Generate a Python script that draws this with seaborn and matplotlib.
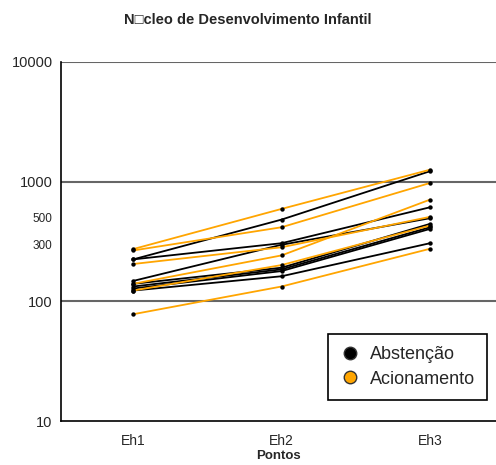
import pandas as pd
import numpy as np
import matplotlib
matplotlib.use('Agg')
import matplotlib.pyplot as plt
import seaborn as sns
from matplotlib.lines import Line2D
from matplotlib.ticker import LogLocator, NullFormatter

# Data (values per series at Eh1, Eh2, Eh3)
pontos = ['Eh1', 'Eh2', 'Eh3']
abstencao = [
    [224, 482, 1223],
    [224, 306, 611],
    [148, 297, 495],
    [140, 191, 444],
    [133, 185, 416],
    [128, 179, 403],
    [123, 162, 306],
]
acionamento = [
    [273, 592, 1259],
    [266, 416, 975],
    [205, 283, 508],
    [140, 242, 708],
    [123, 201, 430],
    [78, 133, 275],
]
grupos = ['Abstenção', 'Acionamento']
cores = {'Abstenção': 'black', 'Acionamento': '#FFA500'}

# Build long table
rows = []
for grupo, series in zip(grupos, [abstencao, acionamento]):
    for i, vals in enumerate(series):
        for p, v in zip(pontos, vals):
            rows.append({'grupo': grupo, 'serie': f'{grupo}_{i}', 'ponto': p, 'valor': v})
df = pd.DataFrame(rows)

sns.set_style('white')
plt.rcParams['font.family'] = ['Liberation Sans', 'DejaVu Sans']

fig = plt.figure(figsize=(4.96, 4.65), dpi=100)
ax = fig.add_axes([0.123, 0.0946, 0.877, 0.7721])

# horizontal gridlines at decades
for y in [100, 1000, 10000]:
    ax.axhline(y, color='#666666', lw=1.5, zorder=0)

sns.lineplot(data=df, x='ponto', y='valor', hue='grupo', units='serie',
             estimator=None, palette=cores, lw=1.3, sort=False, legend=False, ax=ax)
sns.scatterplot(data=df, x='ponto', y='valor', color='black', s=10,
                edgecolor='black', linewidth=0, zorder=3, legend=False, ax=ax)

ax.set_yscale('log')
ax.set_ylim(10, 10000)
ax.set_xlim(-0.485, 2.444)

ax.set_yticks([10, 100, 300, 500, 1000, 10000])
ax.set_yticklabels(['10', '100', '300', '500', '1000', '10000'])
for lab in ax.get_yticklabels():
    if lab.get_text() in ('300', '500'):
        lab.set_fontsize(8.5)
    else:
        lab.set_fontsize(10.5)
ax.yaxis.set_minor_locator(LogLocator(base=10, subs=np.arange(2, 10)))
ax.yaxis.set_minor_formatter(NullFormatter())

ax.set_xticks([0, 1, 2])
ax.set_xticklabels(pontos, fontsize=10)
ax.set_xticks([0.5, 1.5], minor=True)

ax.tick_params(axis='both', which='both', direction='inout', length=5, width=1, color='black')
ax.tick_params(axis='x', which='major', pad=7)

for s in ['top', 'right']:
    ax.spines[s].set_visible(False)
for s in ['left', 'bottom']:
    ax.spines[s].set_color('black')
    ax.spines[s].set_linewidth(1.2)

ax.set_xlabel('Pontos', fontsize=9.5, fontweight='bold', labelpad=1)
ax.set_ylabel('')

fig.suptitle('N\u25a1cleo de Desenvolvimento Infantil', fontsize=10.5,
             fontweight='bold', y=0.972, x=0.5)

handles = [Line2D([], [], marker='o', ls='', color=cores[g], markeredgecolor='#333333',
                  markersize=9, label=g) for g in grupos]
leg = ax.legend(handles=handles, loc='lower right', bbox_to_anchor=(0.98, 0.058),
                borderaxespad=0, fontsize=13, frameon=True, fancybox=False,
                framealpha=1, edgecolor='black', handletextpad=0.6,
                handlelength=1.0, borderpad=0.7, labelspacing=0.4)
leg.get_frame().set_linewidth(1.2)

fig.savefig('out.png', dpi=100)
